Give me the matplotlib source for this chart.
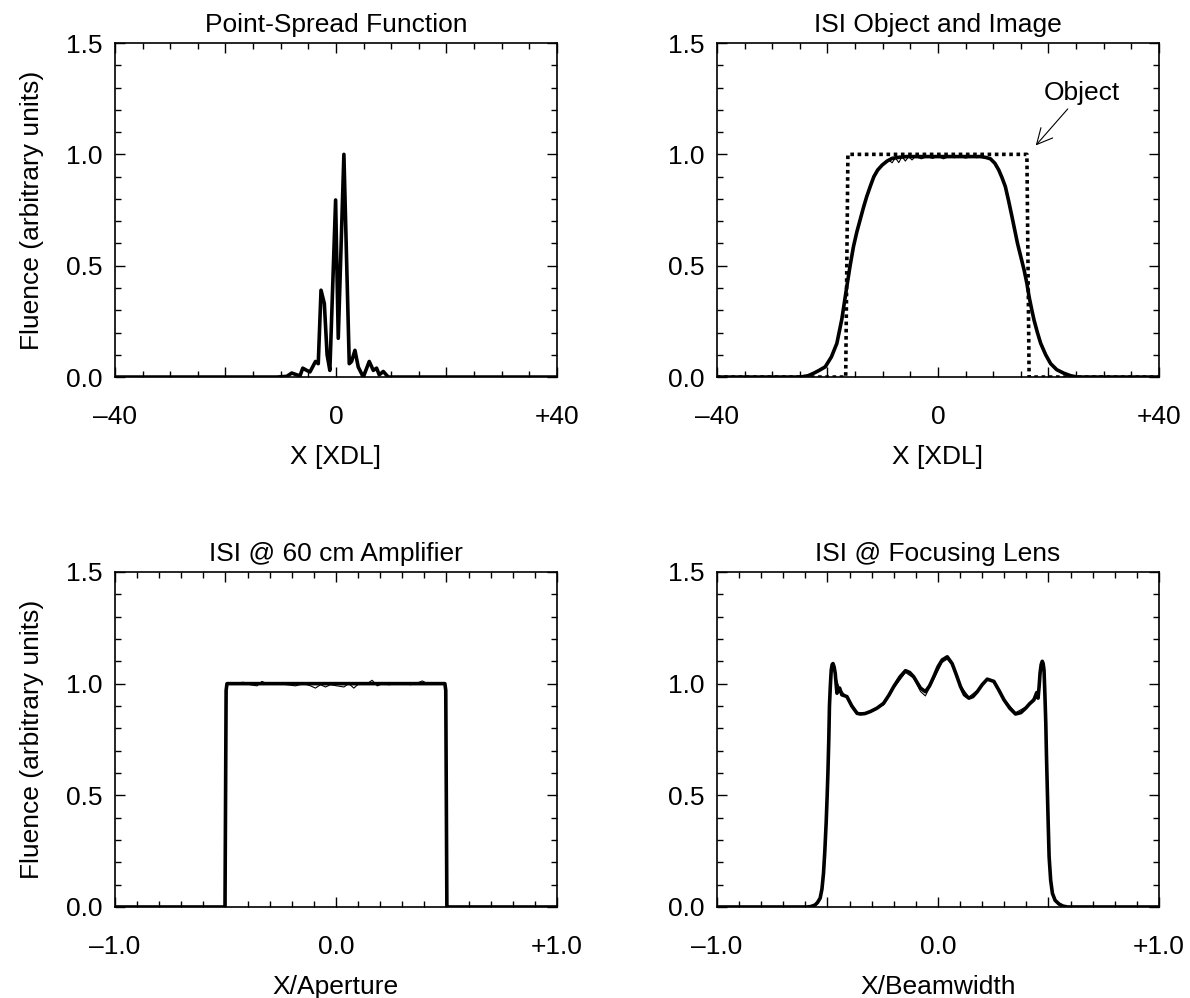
import matplotlib
matplotlib.use('Agg')
import matplotlib.pyplot as plt
from matplotlib.ticker import MultipleLocator

plt.rcParams['font.family'] = ['Liberation Sans', 'DejaVu Sans']
plt.rcParams['font.size'] = 19

# ---- data ----

# Point-spread function
psf_x = [-40, -12, -10.7, -8.9, -8.0, -7.1, -6.5, -6.0, -5.3, -4.7, -3.7, -3.2, -2.7, -2.1,
         -1.6, -1.1, -0.06, 0.42, 1.44, 2.41, 2.83, 3.44, 4.04, 4.95, 6.03, 6.76, 7.36,
         7.84, 8.57, 9.47, 12, 40]
psf_y = [0.0, 0.0, 0.0, 0.003, 0.018, 0.01, 0.006, 0.04, 0.03, 0.023, 0.07, 0.06, 0.39, 0.33,
         0.10, 0.03, 0.795, 0.174, 1.0, 0.06, 0.07, 0.12, 0.045, 0.0, 0.07, 0.03, 0.04,
         0.01, 0.025, 0.0, 0.0, 0.0]

# ISI object (dotted) and image
obj_x = [-40, -16.7, -16.3, 16.1, 16.5, 40]
obj_y = [0, 0, 1, 1, 0, 0]

img_x = [-40, -24.9, -23.5, -22.5, -21.5, -20.4, -19.3, -18.3, -17.4, -16.5, -15.9, -15.3,
         -14.7, -14.1, -13.5, -12.9, -12.2, -11.6, -10.9, -10.1, -9.2, -8.3, -7.0, -5.6,
         0.0, 5.0, 7.7, 8.7, 9.5, 10.3, 11.0, 11.6, 12.2, 12.8, 13.4, 13.9, 14.4, 15.0,
         15.6, 16.1, 16.5, 17.0, 17.4, 18.0, 18.6, 19.5, 20.4, 21.5, 22.8, 24.0, 25.2, 40]
img_y = [0.0, 0.0, 0.006, 0.017, 0.03, 0.046, 0.09, 0.151, 0.26, 0.406, 0.50, 0.585,
         0.65, 0.705, 0.76, 0.81, 0.86, 0.90, 0.93, 0.952, 0.97, 0.982, 0.987, 0.99,
         0.99, 0.99, 0.99, 0.986, 0.98, 0.96, 0.93, 0.895, 0.855, 0.79, 0.72, 0.66, 0.60, 0.54,
         0.48, 0.42, 0.36, 0.30, 0.255, 0.20, 0.151, 0.10, 0.06, 0.033, 0.017, 0.006, 0.0, 0.0]

img_thin_x = [-10.1, -8.9, -8.3, -7.7, -7.1, -6.5, -5.9, -5.3, -4.7, -4.1, -3.0, -2.0, -1.0,
              0.0, 1.0, 2.0, 3.0, 4.0, 5.0, 6.0, 7.0, 8.0, 9.5]
img_thin_y = [0.952, 0.975, 0.962, 0.985, 0.963, 0.99, 0.97, 0.99, 0.975, 0.99, 0.98, 0.99,
              0.982, 0.99, 0.98, 0.99, 0.985, 0.99, 0.983, 0.99, 0.985, 0.99, 0.98]

# ISI @ 60 cm amplifier
amp_x = [-1.0, -0.502, -0.497, -0.493, 0.493, 0.497, 0.502, 1.0]
amp_y = [0, 0, 0.97, 1, 1, 0.97, 0, 0]

amp_thin_x = [-0.494, -0.455, -0.418, -0.388, -0.357, -0.335, -0.312, -0.267, -0.221, -0.183,
              -0.146, -0.115, -0.093, -0.070, -0.047, -0.025, 0.005, 0.036, 0.058, 0.081,
              0.104, 0.141, 0.164, 0.187, 0.210, 0.240, 0.278, 0.308, 0.338, 0.361, 0.391,
              0.414, 0.451, 0.489]
amp_thin_y = [1.0, 1.003, 1.006, 0.995, 0.99, 1.01, 1.0, 1.0, 0.995, 0.99,
              1.0, 0.99, 0.98, 0.995, 0.985, 0.995, 0.99, 0.985, 1.0, 0.98,
              1.0, 1.0, 1.015, 0.99, 1.0, 0.995, 1.0, 1.0, 0.995, 1.0, 1.012,
              1.0, 1.0, 1.0]

# ISI @ focusing lens
lens_x = [-1.0, -0.593, -0.575, -0.556, -0.545, -0.533, -0.525, -0.518, -0.512, -0.506,
          -0.502, -0.498, -0.494, -0.491, -0.487, -0.483, -0.479, -0.475, -0.470, -0.465,
          -0.461, -0.457, -0.452, -0.445, -0.435, -0.412, -0.39, -0.366, -0.351, -0.33,
          -0.306, -0.276, -0.246, -0.222, -0.200, -0.172, -0.147, -0.128, -0.110, -0.079,
          -0.057, -0.038, -0.019, 0.0, 0.019, 0.042, 0.064, 0.083, 0.102, 0.120, 0.140,
          0.158, 0.178, 0.200, 0.223, 0.253, 0.276, 0.299, 0.325, 0.351, 0.375, 0.397,
          0.415, 0.434, 0.447, 0.453, 0.458, 0.462, 0.467, 0.472, 0.476, 0.480, 0.484,
          0.488, 0.491, 0.495, 0.499, 0.503, 0.510, 0.518, 0.530, 0.548, 0.566, 0.586, 1.0]
lens_y = [0.0, 0.0, 0.002, 0.009, 0.02, 0.04, 0.08, 0.15, 0.25, 0.375,
          0.48, 0.60, 0.75, 0.90, 0.99, 1.06, 1.085, 1.09, 1.075, 1.047,
          1.0, 0.957, 0.97, 0.98, 0.95, 0.942, 0.90, 0.867, 0.864, 0.866,
          0.875, 0.89, 0.912, 0.948, 0.987, 1.03, 1.058, 1.05, 1.031, 0.98,
          0.964, 0.99, 1.031, 1.075, 1.106, 1.12, 1.09, 1.04, 0.987, 0.95, 0.935,
          0.942, 0.964, 0.995, 1.02, 1.01, 0.97, 0.927, 0.89, 0.864, 0.87, 0.89,
          0.91, 0.927, 0.96, 0.935, 0.99, 1.047, 1.085, 1.10, 1.09, 1.06, 0.95,
          0.822, 0.68, 0.523, 0.37, 0.225, 0.12, 0.061, 0.03, 0.013, 0.004, 0.0, 0.0]

lens_thin_x = [-0.466, -0.445, -0.412, -0.366, -0.351, -0.306, -0.246, -0.200, -0.147, -0.110,
               -0.079, -0.057, -0.019, 0.019, 0.042, 0.064, 0.102, 0.140, 0.178, 0.223,
               0.253, 0.299, 0.351, 0.397, 0.434, 0.447]
lens_thin_y = [1.04, 0.975, 0.94, 0.872, 0.868, 0.872, 0.905, 0.98, 1.05, 1.025,
               0.965, 0.945, 1.02, 1.095, 1.11, 1.085, 0.99, 0.94, 0.97, 1.02,
               1.01, 0.93, 0.87, 0.895, 0.935, 0.955]


def style_axes(ax, xlim, xminor, xticks, xlabels):
    ax.set_xlim(*xlim)
    ax.set_ylim(0, 1.5)
    ax.set_xticks(xticks)
    ax.set_xticklabels(xlabels)
    ax.xaxis.set_minor_locator(MultipleLocator(xminor))
    ax.set_yticks([0.0, 0.5, 1.0, 1.5])
    ax.set_yticklabels(['0.0', '0.5', '1.0', '1.5'])
    ax.yaxis.set_minor_locator(MultipleLocator(0.1))
    ax.tick_params(which='both', direction='in', top=True, right=True, width=1.0)
    ax.tick_params(which='major', length=7)
    ax.tick_params(which='minor', length=4)
    ax.tick_params(axis='x', which='major', pad=20)
    ax.tick_params(axis='y', which='major', pad=9)
    for s in ax.spines.values():
        s.set_linewidth(1.2)


fig = plt.figure(figsize=(11.9, 9.98), dpi=100)

ax1 = fig.add_axes([0.0966, 0.6222, 0.3714, 0.3347])
ax2 = fig.add_axes([0.6025, 0.6222, 0.3714, 0.3347])
ax3 = fig.add_axes([0.0966, 0.0912, 0.3714, 0.3357])
ax4 = fig.add_axes([0.6025, 0.0912, 0.3714, 0.3357])

xdl_ticks = [-40, -20, 0, 20, 40]
xdl_labels = ['\u201340', '', '0', '', '+40']
unit_ticks = [-1.0, -0.5, 0.0, 0.5, 1.0]
unit_labels = ['\u20131.0', '', '0.0', '', '+1.0']

thick = 2.6
thin = 0.8

# Point-spread function
ax1.plot(psf_x, psf_y, color='black', lw=thick)
style_axes(ax1, (-40, 40), 5, xdl_ticks, xdl_labels)
ax1.set_title('Point-Spread Function', fontsize=19, pad=8)
ax1.set_xlabel('X [XDL]', labelpad=12)
ax1.set_ylabel('Fluence (arbitrary units)', labelpad=16)

# ISI object and image
ax2.plot(obj_x, obj_y, color='black', lw=thick, linestyle=(0, (1, 1)))
ax2.plot(img_x, img_y, color='black', lw=thick)
ax2.plot(img_thin_x, img_thin_y, color='black', lw=thin)
style_axes(ax2, (-40, 40), 5, xdl_ticks, xdl_labels)
ax2.set_title('ISI Object and Image', fontsize=19, pad=8)
ax2.set_xlabel('X [XDL]', labelpad=12)
ax2.annotate('Object', xy=(17.7, 1.04), xytext=(26.0, 1.275),
             ha='center', va='center', fontsize=19,
             arrowprops=dict(arrowstyle='->', color='black', lw=0.8,
                             mutation_scale=28, shrinkA=1, shrinkB=0))

# ISI @ 60 cm amplifier
ax3.plot(amp_x, amp_y, color='black', lw=thick)
ax3.plot(amp_thin_x, amp_thin_y, color='black', lw=thin)
style_axes(ax3, (-1.0, 1.0), 0.1, unit_ticks, unit_labels)
ax3.set_title('ISI @ 60 cm Amplifier', fontsize=19, pad=8)
ax3.set_xlabel('X/Aperture', labelpad=12)
ax3.set_ylabel('Fluence (arbitrary units)', labelpad=16)

# ISI @ focusing lens
ax4.plot(lens_x, lens_y, color='black', lw=thick)
ax4.plot(lens_thin_x, lens_thin_y, color='black', lw=thin)
style_axes(ax4, (-1.0, 1.0), 0.1, unit_ticks, unit_labels)
ax4.set_title('ISI @ Focusing Lens', fontsize=19, pad=8)
ax4.set_xlabel('X/Beamwidth', labelpad=12)

fig.savefig('out.png', dpi=100)
